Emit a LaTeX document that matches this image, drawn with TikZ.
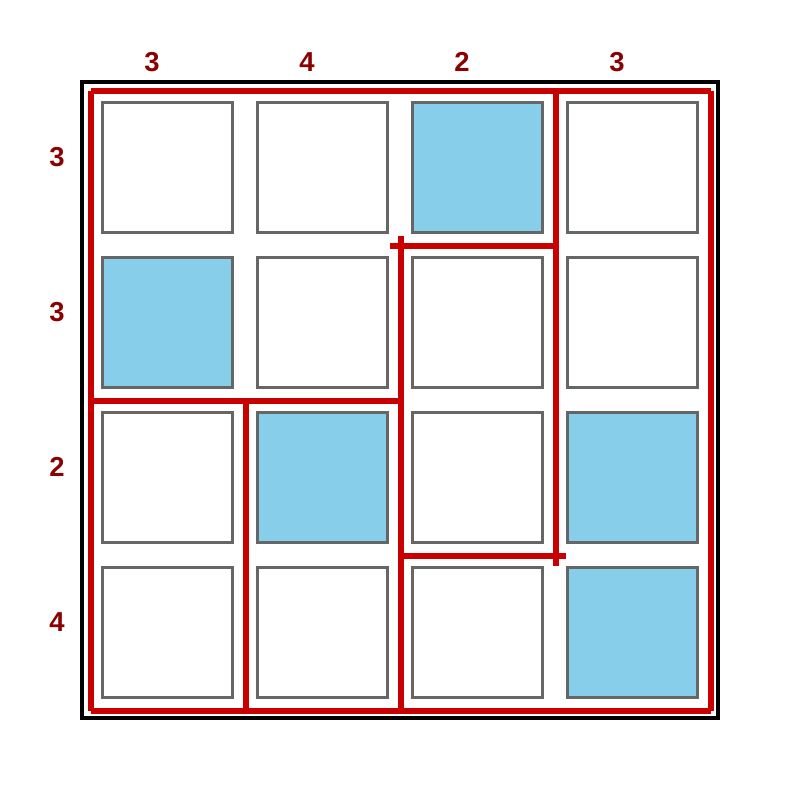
\documentclass[tikz,border=0pt]{standalone}
\usepackage{fontspec}
\setmainfont{Liberation Sans}
\usepackage{xcolor}
\definecolor{WallRed}  {RGB}{200, 0,   0}
\definecolor{LabelRed} {RGB}{139, 0,   0}
\definecolor{CellGray} {RGB}{102, 102, 102}
\definecolor{SkyFill}  {RGB}{135, 206, 235}
\usetikzlibrary{positioning}

\begin{document}
\begin{tikzpicture}[
  cell/.style={
    draw=CellGray, fill=white,
    line width=0.03cm,
    minimum size=1.30cm,
    inner sep=0pt
  },
  shaded/.style={
    cell, fill=SkyFill},
  count/.style={
    text=LabelRed,
    font=\fontsize{7.8}{9}\selectfont\bfseries},
  frame/.style={
    draw=black, line width=0.04cm},
  wall/.style={
    draw=WallRed, line width=0.06cm}
]
\useasboundingbox (0,0) rectangle (8,8);

\draw[frame] (0.82,0.82) rectangle (7.18,7.18);

% cells, row by row from the top
\node[cell]   (c11) at (1.675,6.325) {};
\node[cell]   (c12) at (3.225,6.325) {};
\node[shaded] (c13) at (4.775,6.325) {};
\node[cell]   (c14) at (6.325,6.325) {};

\node[shaded] (c21) at (1.675,4.775) {};
\node[cell]   (c22) at (3.225,4.775) {};
\node[cell]   (c23) at (4.775,4.775) {};
\node[cell]   (c24) at (6.325,4.775) {};

\node[cell]   (c31) at (1.675,3.225) {};
\node[shaded] (c32) at (3.225,3.225) {};
\node[cell]   (c33) at (4.775,3.225) {};
\node[shaded] (c34) at (6.325,3.225) {};

\node[cell]   (c41) at (1.675,1.675) {};
\node[cell]   (c42) at (3.225,1.675) {};
\node[cell]   (c43) at (4.775,1.675) {};
\node[shaded] (c44) at (6.325,1.675) {};

% column and row counts
\node[count] (col1) at (1.52,7.38) {3};
\node[count] (col2) at (3.07,7.38) {4};
\node[count] (col3) at (4.62,7.38) {2};
\node[count] (col4) at (6.17,7.38) {3};

\node[count] (row1) at (0.57,6.43) {3};
\node[count] (row2) at (0.57,4.88) {3};
\node[count] (row3) at (0.57,3.33) {2};
\node[count] (row4) at (0.57,1.78) {4};

% lattice points used by the walls
\coordinate (g00) at (0.91,7.09);
\coordinate (g30) at (5.56,7.09);
\coordinate (g40) at (7.11,7.09);
\coordinate (g21) at (4.01,5.54);
\coordinate (g31) at (5.56,5.54);
\coordinate (g02) at (0.91,3.99);
\coordinate (g12) at (2.46,3.99);
\coordinate (g22) at (4.01,3.99);
\coordinate (g23) at (4.01,2.44);
\coordinate (g33) at (5.56,2.44);
\coordinate (g04) at (0.91,0.89);
\coordinate (g14) at (2.46,0.89);
\coordinate (g24) at (4.01,0.89);
\coordinate (g44) at (7.11,0.89);

% outer walls
\draw[wall] (g00) -- (g40);
\draw[wall] (g40) -- (g44);
\draw[wall] (g04) -- (g44);
\draw[wall] (g00) -- (g04);

% inner walls
\draw[wall, shorten >=-0.1cm] (g30) -- (g33);
\draw[wall, shorten <=-0.11cm] (g21) -- (g31);
\draw[wall, shorten <=-0.1cm] (g21) -- (g24);
\draw[wall] (g02) -- (g22);
\draw[wall] (g12) -- (g14);
\draw[wall, shorten >=-0.1cm] (g23) -- (g33);

\end{tikzpicture}
\end{document}
